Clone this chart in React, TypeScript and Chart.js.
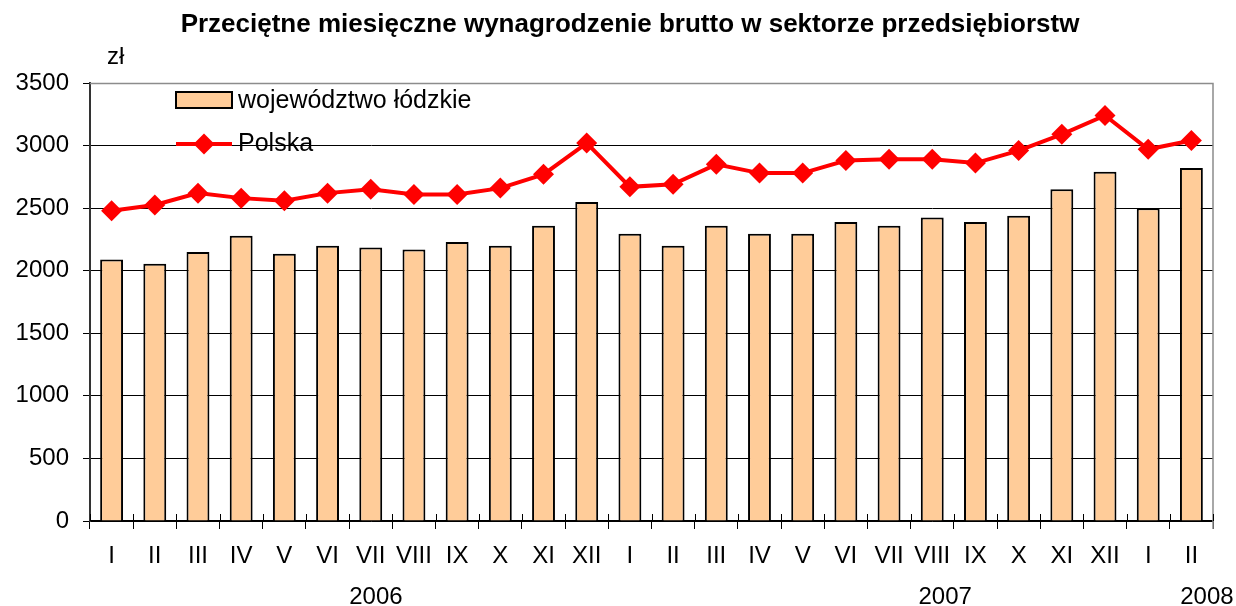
import React, { useEffect, useRef } from "react";
import { Chart, registerables } from "chart.js";

Chart.register(...registerables);

const months = ["I","II","III","IV","V","VI","VII","VIII","IX","X","XI","XII","I","II","III","IV","V","VI","VII","VIII","IX","X","XI","XII","I","II"];
const lodzkie = [2090,2055,2150,2280,2135,2200,2185,2170,2230,2200,2360,2550,2295,2200,2360,2295,2295,2390,2360,2425,2390,2440,2650,2790,2500,2820];
const polska = [2480,2525,2620,2580,2560,2620,2650,2610,2610,2660,2770,3020,2670,2690,2850,2780,2780,2880,2890,2890,2860,2960,3090,3240,2970,3040];
const years = ["2006","2007","2008"];
const yearPos = [6.12, 19.3, 25.36];
const seriesNames = ["województwo łódzkie","Polska"];
const title = "Przeciętne miesięczne wynagrodzenie brutto w sektorze przedsiębiorstw";
const unit = "zł";

const FONT = "'Liberation Sans', Arial, sans-serif";
const BAR_FILL = "#FFCC99";
const RED = "#FF0000";

const overlay = {
  id: "overlay",
  afterDraw(chart: any) {
    const ctx = chart.ctx;
    const area = chart.chartArea;
    ctx.save();
    // frame top & right (gray)
    ctx.strokeStyle = "#8c8c8c";
    ctx.lineWidth = 1.5;
    ctx.beginPath();
    ctx.moveTo(area.left, area.top + 0.5);
    ctx.lineTo(area.right, area.top + 0.5);
    ctx.lineTo(area.right, area.bottom + 8);
    ctx.stroke();
    // x tick marks crossing axis
    ctx.strokeStyle = "#000";
    ctx.lineWidth = 1;
    const n = months.length;
    const w = (area.right - area.left) / n;
    for (let i = 0; i <= n; i++) {
      const x = Math.round(area.left + i * w) + 0.5;
      ctx.beginPath();
      ctx.moveTo(x, area.bottom - 7);
      ctx.lineTo(x, area.bottom);
      ctx.stroke();
    }
    // title
    ctx.fillStyle = "#000";
    ctx.textAlign = "center";
    ctx.textBaseline = "middle";
    ctx.font = `bold 26px ${FONT}`;
    ctx.fillText(title, 630, 25);
    // unit
    ctx.font = `24px ${FONT}`;
    ctx.textAlign = "left";
    ctx.fillText(unit, 107, 57);
    // years
    ctx.textAlign = "center";
    years.forEach((y, i) => {
      const x = area.left + (yearPos[i] + 0.5) * w;
      ctx.fillText(y, x, 597);
    });
    // legend
    ctx.font = `25px ${FONT}`;
    ctx.fillStyle = BAR_FILL;
    ctx.fillRect(176, 92, 56, 16);
    ctx.strokeStyle = "#000";
    ctx.lineWidth = 2;
    ctx.strokeRect(176, 92, 56, 16);
    ctx.fillStyle = "#000";
    ctx.textAlign = "left";
    ctx.fillText(seriesNames[0], 238, 101);
    ctx.strokeStyle = RED;
    ctx.lineWidth = 4;
    ctx.beginPath();
    ctx.moveTo(176, 144);
    ctx.lineTo(232, 144);
    ctx.stroke();
    ctx.fillStyle = RED;
    ctx.beginPath();
    ctx.moveTo(204, 133.5);
    ctx.lineTo(214.5, 144);
    ctx.lineTo(204, 154.5);
    ctx.lineTo(193.5, 144);
    ctx.closePath();
    ctx.fill();
    ctx.fillStyle = "#000";
    ctx.fillText(seriesNames[1], 238, 144);
    ctx.restore();
  },
};

export default function App() {
  const ref = useRef<HTMLCanvasElement>(null);
  useEffect(() => {
    document.body.style.margin = "0";
    const canvas = ref.current!;
    const chart = new Chart(canvas, {
      type: "bar",
      data: {
        labels: months,
        datasets: [
          {
            type: "line",
            label: seriesNames[1],
            data: polska,
            borderColor: RED,
            backgroundColor: RED,
            borderWidth: 4,
            pointStyle: "rectRot",
            pointRadius: 10.5,
            pointBackgroundColor: RED,
            pointBorderWidth: 0,
            tension: 0,
            order: 1,
          } as any,
          {
            type: "bar",
            label: seriesNames[0],
            data: lodzkie,
            backgroundColor: BAR_FILL,
            borderColor: "#000",
            borderWidth: 2,
            barPercentage: 0.53,
            categoryPercentage: 1,
            order: 2,
          },
        ],
      },
      options: {
        responsive: false,
        animation: false,
        devicePixelRatio: 1,
        layout: { padding: { top: 83, right: 23, left: 0, bottom: 0 } },
        plugins: {
          legend: { display: false },
          title: { display: false },
          tooltip: { enabled: false },
        },
        scales: {
          x: {
            offset: true,
            grid: {
              display: true,
              drawOnChartArea: false,
              drawTicks: true,
              tickLength: 8,
              offset: true,
              color: "#000",
              lineWidth: 1,
            },
            border: { color: "#000", width: 1.5 },
            ticks: {
              color: "#000",
              font: { family: FONT, size: 24 },
              padding: 13,
              maxRotation: 0,
              autoSkip: false,
            },
            afterFit(scale: any) {
              scale.height = 85;
            },
          },
          y: {
            min: 0,
            max: 3500,
            ticks: {
              stepSize: 500,
              color: "#000",
              font: { family: FONT, size: 24 },
              padding: 14,
              callback: (v: any) => String(v),
            },
            grid: {
              color: "#000",
              lineWidth: 1,
              tickLength: 7,
            },
            border: { color: "#333", width: 2 },
            afterFit(scale: any) {
              scale.width = 90;
            },
          },
        },
      },
      plugins: [overlay],
    });
    return () => chart.destroy();
  }, []);
  return (
    <div style={{ width: 1236, height: 606 }}>
      <canvas ref={ref} width={1236} height={606} style={{ display: "block" }} />
    </div>
  );
}
